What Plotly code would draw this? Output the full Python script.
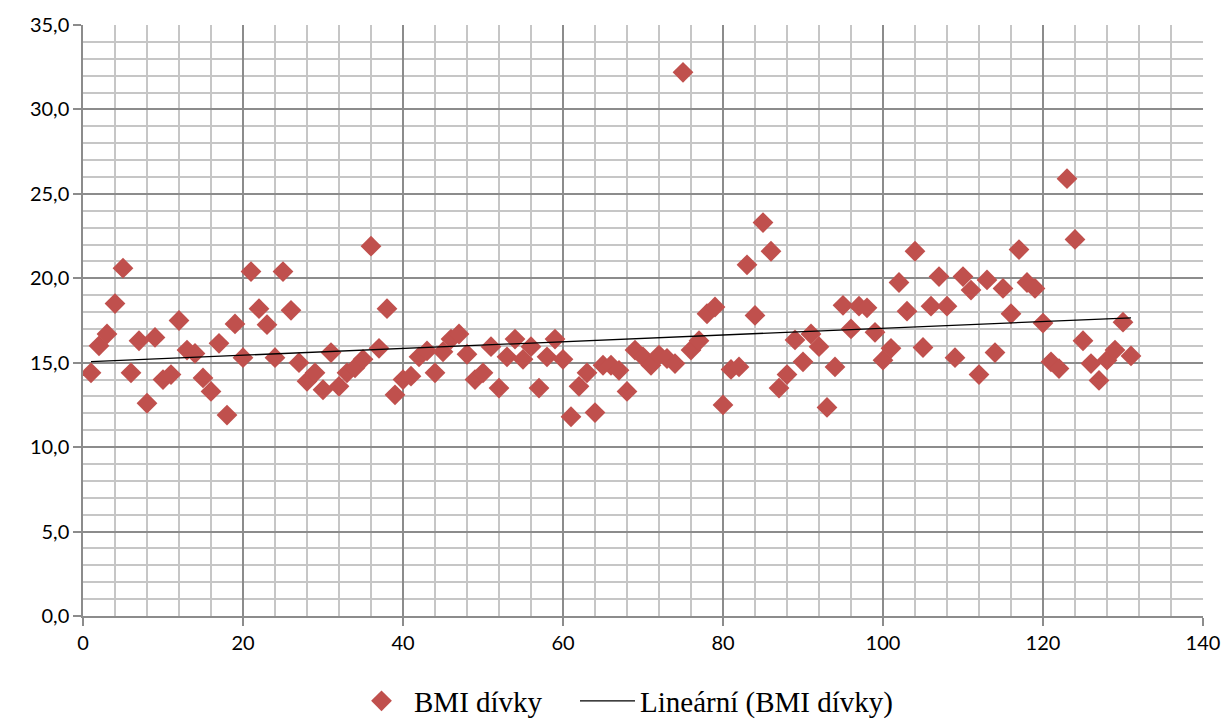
import numpy as np
import plotly.graph_objects as go

x_index = list(range(1, 132))
bmi_divky = [
    14.4, 16.0, 16.7, 18.5, 20.6, 14.4, 16.3, 12.6, 16.5, 14.0,
    14.3, 17.5, 15.75, 15.55, 14.1, 13.3, 16.15, 11.9, 17.3, 15.3,
    20.4, 18.2, 17.25, 15.3, 20.4, 18.1, 15.0, 13.9, 14.4, 13.4,
    15.6, 13.6, 14.4, 14.7, 15.2, 21.9, 15.85, 18.2, 13.1, 14.0,
    14.2, 15.35, 15.7, 14.4, 15.65, 16.4, 16.7, 15.5, 14.0, 14.4,
    15.95, 13.5, 15.35, 16.4, 15.2, 15.95, 13.5, 15.35, 16.4, 15.2,
    11.8, 13.6, 14.4, 12.05, 14.85, 14.85, 14.55, 13.3, 15.75, 15.35,
    14.85, 15.45, 15.25, 14.95, 32.2, 15.75, 16.3, 17.9, 18.3, 12.5,
    14.6, 14.75, 20.8, 17.8, 23.3, 21.6, 13.5, 14.3, 16.35, 15.05,
    16.7, 15.95, 12.35, 14.75, 18.4, 17.0, 18.35, 18.25, 16.8, 15.15,
    15.85, 19.75, 18.05, 21.6, 15.9, 18.35, 20.1, 18.35, 15.3, 20.1,
    19.3, 14.3, 19.9, 15.6, 19.4, 17.9, 21.7, 19.75, 19.4, 17.35,
    15.05, 14.65, 25.9, 22.3, 16.3, 14.95, 13.95, 15.15, 15.75, 17.4,
    15.4,
]

series_name = "BMI dívky"
trend_name = "Lineární (BMI dívky)"

slope, intercept = np.polyfit(x_index, bmi_divky, 1)
trend_x = [x_index[0], x_index[-1]]
trend_y = [slope * v + intercept for v in trend_x]

fig = go.Figure()
fig.add_trace(go.Scatter(
    x=x_index, y=bmi_divky, mode="markers", name=series_name,
    marker=dict(symbol="diamond", size=16, color="#C0504D",
                line=dict(width=0)),
    legend="legend",
))
fig.add_trace(go.Scatter(
    x=trend_x, y=trend_y, mode="lines", name=trend_name,
    line=dict(color="black", width=1.3),
    legend="legend2",
))

major_grid = "#8C8C8C"
minor_grid = "#C6C6C6"
legend_font = dict(family="Liberation Serif", size=29, color="black")

fig.update_layout(
    width=1222, height=722,
    margin=dict(l=83, r=19, t=25, b=106),
    paper_bgcolor="white", plot_bgcolor="white",
    separators=", ",
    showlegend=True,
    legend=dict(orientation="h", xref="container", x=349 / 1222, xanchor="left",
                yref="container", y=21 / 722, yanchor="middle",
                font=legend_font, itemwidth=55),
    legend2=dict(orientation="h", xref="container", x=575 / 1222, xanchor="left",
                 yref="container", y=21 / 722, yanchor="middle",
                 font=legend_font, itemwidth=55),
    font=dict(family="Lato", size=20, color="black"),
)
fig.update_xaxes(
    range=[0, 140], dtick=20, tick0=0, automargin=False,
    showgrid=True, gridcolor=major_grid, gridwidth=1.5,
    minor=dict(dtick=4, tick0=0, showgrid=True, gridcolor=minor_grid, gridwidth=1.5),
    showline=True, linecolor=major_grid, linewidth=1.5,
    ticks="outside", ticklen=8, tickcolor=major_grid, tickwidth=1.5,
    zeroline=False, tickfont=dict(family="Lato", size=20),
)
fig.update_yaxes(
    range=[0, 35], dtick=5, tick0=0, tickformat=".1f", automargin=False,
    showgrid=True, gridcolor=major_grid, gridwidth=1.5,
    minor=dict(dtick=1, tick0=0, showgrid=True, gridcolor=minor_grid, gridwidth=1.5),
    showline=True, linecolor=major_grid, linewidth=1.5,
    ticks="outside", ticklen=8, tickcolor=major_grid, tickwidth=1.5,
    zeroline=False, tickfont=dict(family="Lato", size=20),
)

fig.write_html("out.html")
